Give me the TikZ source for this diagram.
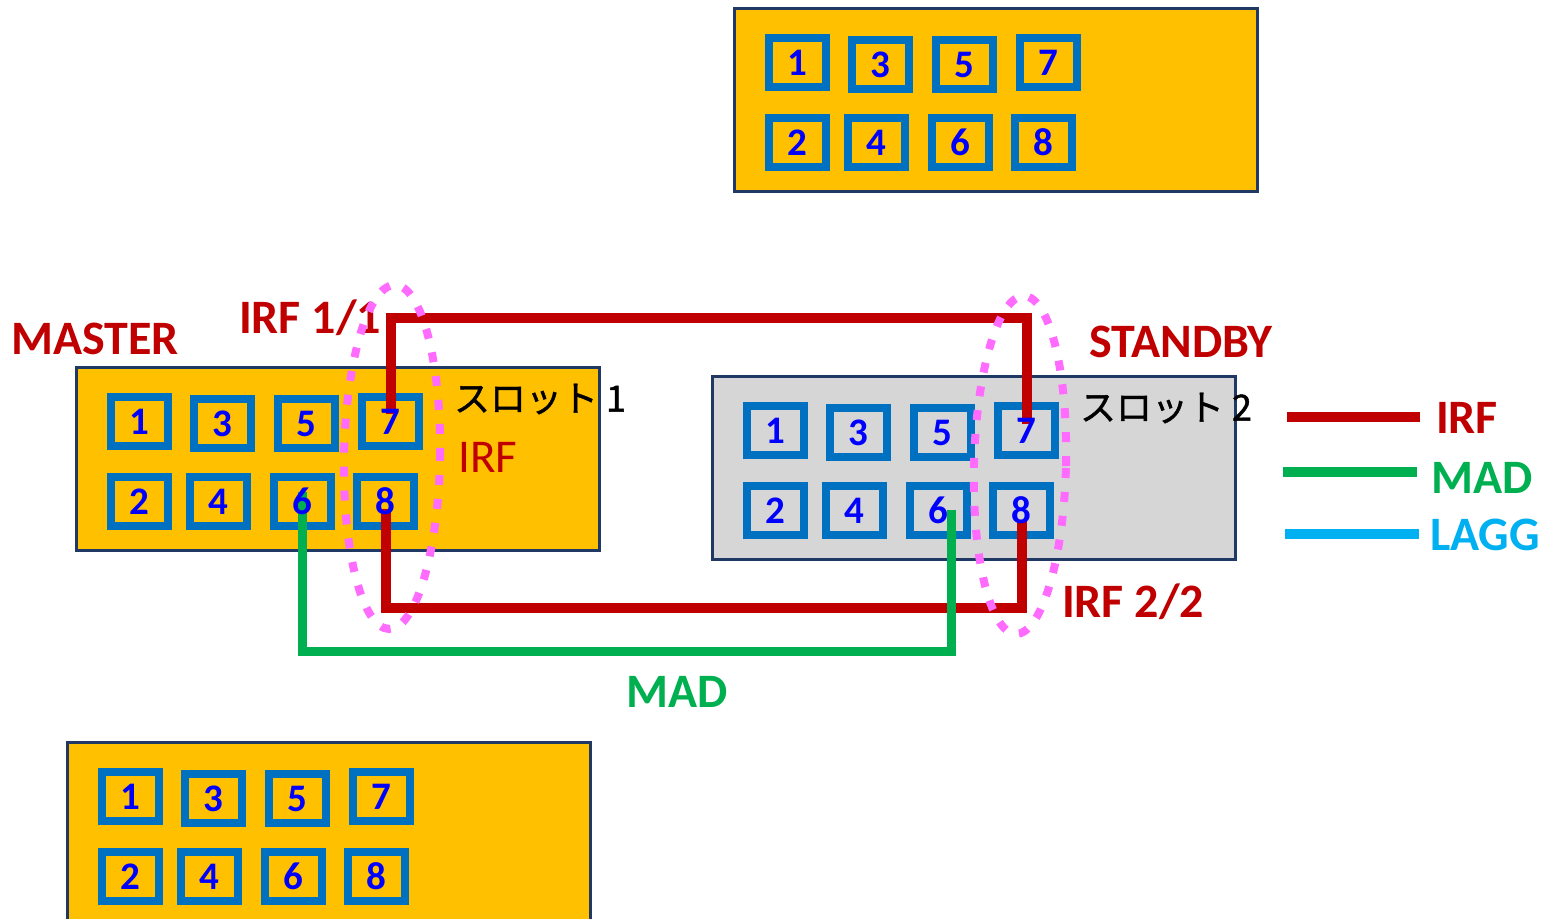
\documentclass[tikz,border=0pt]{standalone}
\usepackage{fontspec}
\setmainfont{Carlito}
\newfontfamily\cjkfont[FakeBold=1.2]{Noto Sans CJK JP}
\usetikzlibrary{shapes.geometric}
\definecolor{boxorange}{HTML}{FFC000}
\definecolor{boxgray}{HTML}{D6D6D6}
\definecolor{navy}{HTML}{203864}
\definecolor{portblue}{HTML}{0070C0}
\definecolor{digitblue}{HTML}{0000FF}
\definecolor{irfred}{HTML}{C00000}
\definecolor{madgreen}{HTML}{00B050}
\definecolor{laggblue}{HTML}{00B0F0}
\definecolor{pinkdot}{HTML}{FF6BFF}
\tikzset{
  chassisbox/.style={draw=navy, line width=1.5pt},
  port/.style={draw=portblue, line width=4pt, minimum width=28.5pt, minimum height=24.5pt, inner sep=0pt},
  digit/.style={inner sep=0pt, text=digitblue, font=\bfseries\fontsize{19.5}{19.5}\selectfont},
  irfline/.style={draw=irfred, line width=5pt},
  madline/.style={draw=madgreen, line width=4.5pt},
  laggline/.style={draw=laggblue, line width=5pt},
  lbl/.style={inner sep=0pt, text=irfred, font=\bfseries\fontsize{24}{24}\selectfont},
  irfreg/.style={inner sep=0pt, text=irfred, font=\fontsize{23.5}{23.5}\selectfont},
  jp/.style={inner sep=0pt, text=black, font=\cjkfont\fontsize{18}{18}\selectfont},
  pinkring/.style={draw=pinkdot, line width=4pt, dash pattern=on 5pt off 7pt, ellipse, inner sep=0pt},
}
\newcommand\chassis[5]{%
  \node[chassisbox, fill=#4, anchor=north west, minimum width=261.5pt, minimum height=#5, inner sep=0pt] (#1box) at (#2,#3) {};
  \foreach \n/\dx/\dy in {1/32/27, 3/115/29, 5/199/29, 7/283/27, 2/32/107, 4/111/107, 6/195/107, 8/278/107}
    \node[port, fill=#4] (#1\n) at ({#2+\dx+32.5},{#3+\dy+28.5}) {};
}
\newcommand\portdigits[1]{%
  \foreach \n in {1,...,8}
    \node[digit] (#1\n num) at (#1\n) {\n};
}
\begin{document}
\begin{tikzpicture}[x=0.5pt, y=-0.5pt]
\useasboundingbox (0,0) rectangle (1544,919);
% chassis
\chassis{t}{733}{7}{boxorange}{91.5pt}
\chassis{m}{75}{366}{boxorange}{91.5pt}
\chassis{s}{711}{375}{boxgray}{91.5pt}
\chassis{b}{66}{741}{boxorange}{92pt}
% connectors
\coordinate (irftop) at (700,318);
\coordinate (irfbot) at (700,608);
\coordinate (madbot) at (620,652);
\draw[irfline] ([yshift=3.5pt]m7.center) |- (irftop) -| ([yshift=3pt]s7.center);
\draw[irfline] ([yshift=-4pt]m8.center) |- (irfbot) -| ([yshift=-5pt]s8.center);
\draw[madline] ([yshift=4.5pt]m6.center) |- (madbot) -| ([xshift=6.25pt]s6.center);
% port numbers
\portdigits{t}
\portdigits{m}
\portdigits{s}
\portdigits{b}
% labels
\node[lbl] (master) at (95,339) {MASTER};
\node[lbl] (irf11) at (310,318) {IRF 1/1};
\node[lbl] (standby) at (1181,342) {STANDBY};
\node[lbl] (irf22) at (1133,602) {IRF 2/2};
\node[lbl, text=madgreen] (madlbl) at (677,692) {MAD};
\node[irfreg] (irfin) at (488,457) {IRF};
\node[jp] (slot1) at (540,399) {スロット 1};
\node[jp] (slot2) at (1166,408) {スロット 2};
% pink groups
\node[pinkring, minimum width=48pt, minimum height=172pt, rotate=-1] (grp1) at (392,457) {};
\node[pinkring, minimum width=46pt, minimum height=169pt, rotate=-1.4] (grp2) at (1020,465) {};
% legend
\coordinate (lg1a) at (1287,417); \coordinate (lg1b) at (1420,417);
\coordinate (lg2a) at (1283,472); \coordinate (lg2b) at (1417,472);
\coordinate (lg3a) at (1285,534); \coordinate (lg3b) at (1419,534);
\draw[irfline] (lg1a) -- (lg1b);
\draw[madline, line width=5pt] (lg2a) -- (lg2b);
\draw[laggline] (lg3a) -- (lg3b);
\node[lbl] (lgirf) at (1467,418) {IRF};
\node[lbl, text=madgreen] (lgmad) at (1482,478) {MAD};
\node[lbl, text=laggblue] (lglagg) at (1485,535) {LAGG};
\end{tikzpicture}
\end{document}
